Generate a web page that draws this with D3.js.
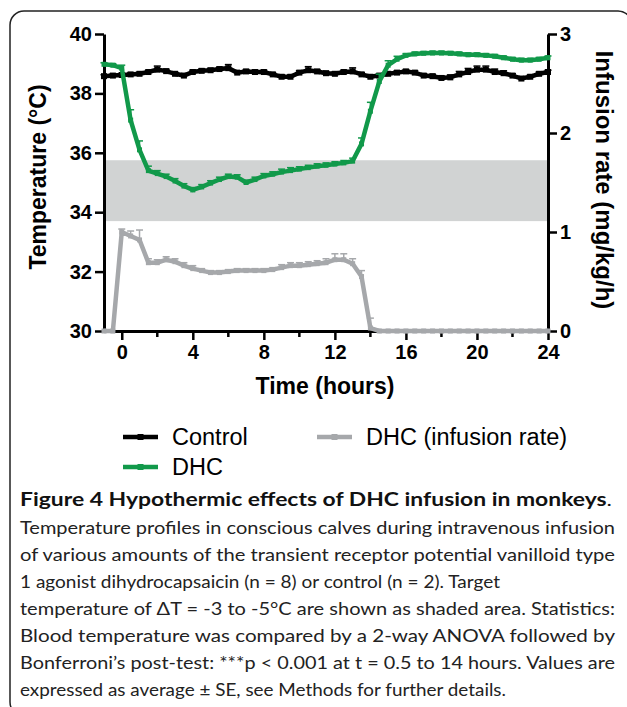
<!DOCTYPE html>
<html>
<head>
<meta charset="utf-8">
<script src="https://cdn.jsdelivr.net/npm/d3@7"></script>
<style>
  body { margin: 0; background: #fff; }
  svg { display: block; }
</style>
</head>
<body>
<svg class="chart" width="627" height="707"></svg>
<script>
// sampling times (hours), one reading every half hour
var hours = d3.range(-1, 24.01, 0.5);

var controlTemp = [38.58,38.6,38.62,38.64,38.66,38.72,38.8,38.75,38.66,38.6,38.72,38.76,38.78,38.82,38.85,38.7,38.74,38.72,38.72,38.64,38.56,38.56,38.7,38.78,38.74,38.68,38.66,38.72,38.74,38.64,38.56,38.6,38.66,38.7,38.74,38.7,38.6,38.58,38.52,38.54,38.64,38.72,38.8,38.8,38.72,38.68,38.6,38.5,38.56,38.66,38.72];
var controlSE = [0.05,0.05,0.05,0.05,0.05,0.06,0.12,0.06,0.05,0.05,0.06,0.06,0.06,0.06,0.12,0.06,0.06,0.06,0.06,0.06,0.06,0.06,0.06,0.12,0.06,0.06,0.06,0.06,0.12,0.06,0.06,0.06,0.06,0.06,0.06,0.06,0.06,0.06,0.06,0.08,0.1,0.12,0.12,0.12,0.1,0.08,0.06,0.06,0.06,0.06,0.06];

var dhcTemp = [38.98,38.95,38.85,37.1,36.1,35.4,35.3,35.2,35.05,34.88,34.75,34.85,34.98,35.1,35.2,35.18,35.0,35.1,35.22,35.28,35.35,35.4,35.45,35.5,35.55,35.58,35.62,35.66,35.72,36.3,37.4,38.4,38.95,39.15,39.28,39.33,39.35,39.36,39.36,39.35,39.33,39.3,39.3,39.28,39.25,39.2,39.15,39.12,39.12,39.15,39.2];
var dhcSE = [0.05,0.05,0.1,0.35,0.3,0.15,0.1,0.08,0.08,0.08,0.08,0.08,0.08,0.08,0.08,0.08,0.08,0.08,0.08,0.08,0.1,0.1,0.08,0.08,0.08,0.08,0.08,0.08,0.1,0.2,0.3,0.25,0.15,0.1,0.06,0.06,0.06,0.06,0.06,0.06,0.06,0.06,0.06,0.06,0.06,0.06,0.06,0.06,0.06,0.06,0.06];

var infusionRate = [0,0,1.0,0.96,0.92,0.69,0.69,0.72,0.7,0.66,0.63,0.61,0.59,0.59,0.6,0.61,0.61,0.61,0.61,0.62,0.64,0.66,0.66,0.67,0.68,0.69,0.72,0.72,0.68,0.55,0.03,0,0,0,0,0,0,0,0,0,0,0,0,0,0,0,0,0,0,0,0];
var infusionSE = [0,0,0.03,0.05,0.1,0.04,0.03,0.03,0.03,0.03,0.03,0.02,0.02,0.02,0.02,0.02,0.02,0.02,0.02,0.02,0.03,0.03,0.03,0.03,0.03,0.04,0.06,0.06,0.05,0.06,0.1,0,0,0,0,0,0,0,0,0,0,0,0,0,0,0,0,0,0,0,0];

var targetBand = [33.7, 35.75];
var tempTicks = [30, 32, 34, 36, 38, 40];
var rateTicks = [0, 1, 2, 3];
var hourTicks = [0, 4, 8, 12, 16, 20, 24];
var hourMinor = [2, 6, 10, 14, 18, 22];

var caption = [
  "Temperature profiles in conscious calves during intravenous infusion",
  "of various amounts of the transient receptor potential vanilloid type",
  "1 agonist dihydrocapsaicin (n = 8) or control (n = 2). Target",
  "temperature of \u0394T = -3 to -5\u00b0C are shown as shaded area. Statistics:",
  "Blood temperature was compared by a 2-way ANOVA followed by",
  "Bonferroni\u2019s post-test: ***p < 0.001 at t = 0.5 to 14 hours. Values are",
  "expressed as average \u00b1 SE, see Methods for further details."
];
var captionWidths = [595, 595, 480, 595, 595, 595, 486];

var GREEN = "#11994a", GREY = "#a6a8ab", BLACK = "#000";

var svg = d3.select(".chart");

// figure frame
svg.append("rect")
  .attr("x", 10).attr("y", 11)
  .attr("width", 622).attr("height", 705)
  .attr("rx", 14)
  .style("fill", "none").style("stroke", "#222").style("stroke-width", 1.5);

var x = d3.scaleLinear().domain([-1, 24]).range([104, 548]);
var yT = d3.scaleLinear().domain([30, 40]).range([331, 34]);
var yR = d3.scaleLinear().domain([0, 3]).range([331, 34]);

// shaded target range
svg.append("rect")
  .attr("x", x(-1)).attr("width", x(24) - x(-1))
  .attr("y", yT(targetBand[1])).attr("height", yT(targetBand[0]) - yT(targetBand[1]))
  .style("fill", "#d1d3d3");

// axes
function styleAxis(g) {
  g.select(".domain").style("stroke-width", 3);
  g.selectAll(".tick line").style("stroke-width", 2.5);
  g.selectAll("text")
    .style("font-family", "'Liberation Sans', Arial, sans-serif")
    .style("font-weight", "bold").style("font-size", "20px").style("fill", "#000");
}

svg.append("g").attr("transform", "translate(104,0)")
  .call(d3.axisLeft(yT).tickValues(tempTicks).tickSize(9).tickSizeOuter(0).tickPadding(3).tickFormat(d3.format("d")))
  .call(styleAxis);

svg.append("g").attr("transform", "translate(548,0)")
  .call(d3.axisRight(yR).tickValues(rateTicks).tickSize(9).tickSizeOuter(0).tickPadding(3).tickFormat(d3.format("d")))
  .call(styleAxis);

var xg = svg.append("g").attr("transform", "translate(0,331)")
  .call(d3.axisBottom(x).tickValues(hourTicks).tickSize(9).tickSizeOuter(0).tickPadding(5).tickFormat(d3.format("d")))
  .call(styleAxis);
xg.selectAll(".minor").data(hourMinor).enter().append("line")
  .attr("x1", function(d){ return x(d); }).attr("x2", function(d){ return x(d); })
  .attr("y1", 0).attr("y2", 6)
  .style("stroke", "#000").style("stroke-width", 2.5);

function drawSeries(vals, se, y, color, lw, ms) {
  var pts = hours.map(function(h, i){ return {h: h, v: vals[i], e: se[i]}; });
  var g = svg.append("g");
  g.append("path")
    .datum(pts)
    .attr("d", d3.line().x(function(d){ return x(d.h); }).y(function(d){ return y(d.v); }))
    .style("fill", "none").style("stroke", color).style("stroke-width", lw);
  var eb = g.selectAll(".eb").data(pts.filter(function(d){ return d.e > 0; })).enter();
  eb.append("line")
    .attr("x1", function(d){ return x(d.h); }).attr("x2", function(d){ return x(d.h); })
    .attr("y1", function(d){ return y(d.v); }).attr("y2", function(d){ return y(d.v + d.e); })
    .style("stroke", color).style("stroke-width", 1.5);
  eb.append("line")
    .attr("x1", function(d){ return x(d.h) - 3.5; }).attr("x2", function(d){ return x(d.h) + 3.5; })
    .attr("y1", function(d){ return y(d.v + d.e); }).attr("y2", function(d){ return y(d.v + d.e); })
    .style("stroke", color).style("stroke-width", 1.5);
  g.selectAll(".m").data(pts).enter().append("rect")
    .attr("x", function(d){ return x(d.h) - ms / 2; })
    .attr("y", function(d){ return y(d.v) - ms / 2; })
    .attr("width", ms).attr("height", ms)
    .style("fill", color);
}

drawSeries(infusionRate, infusionSE, yR, GREY, 4.5, 5);
drawSeries(controlTemp, controlSE, yT, BLACK, 4.5, 6);
drawSeries(dhcTemp, dhcSE, yT, GREEN, 4.5, 5);

// axis titles
var titleFont = "'Liberation Sans', Arial, sans-serif";
svg.append("text").text("Time (hours)")
  .attr("x", 325).attr("y", 394)
  .attr("text-anchor", "middle")
  .style("font-family", titleFont).style("font-weight", "bold").style("font-size", "23px");

svg.append("text").text("Temperature (\u00b0C)")
  .attr("transform", "translate(38,177) rotate(-90)")
  .attr("text-anchor", "middle").attr("dominant-baseline", "central")
  .style("font-family", titleFont).style("font-weight", "bold").style("font-size", "23px");

svg.append("text").text("Infusion rate (mg/kg/h)")
  .attr("transform", "translate(604,180) rotate(90)")
  .attr("text-anchor", "middle").attr("dominant-baseline", "central")
  .style("font-family", titleFont).style("font-weight", "bold").style("font-size", "24px");

// legend
var legend = [
  {label: "Control", color: BLACK, x: 123, y: 437},
  {label: "DHC", color: GREEN, x: 123, y: 467},
  {label: "DHC (infusion rate)", color: GREY, x: 317, y: 437}
];
var lg = svg.selectAll(".lg").data(legend).enter().append("g");
lg.append("line")
  .attr("x1", function(d){ return d.x; }).attr("x2", function(d){ return d.x + 35; })
  .attr("y1", function(d){ return d.y; }).attr("y2", function(d){ return d.y; })
  .style("stroke", function(d){ return d.color; }).style("stroke-width", 4.5);
lg.append("rect")
  .attr("x", function(d){ return d.x + 14.5; }).attr("y", function(d){ return d.y - 3; })
  .attr("width", 6).attr("height", 6)
  .style("fill", function(d){ return d.color; });
lg.append("text").text(function(d){ return d.label; })
  .attr("x", function(d){ return d.x + 49; }).attr("y", function(d){ return d.y + 8; })
  .style("font-family", titleFont).style("font-size", "23.5px");

// caption
var capFont = "Lato, 'Open Sans', sans-serif";
var head = svg.append("text").attr("x", 20).attr("y", 506)
  .attr("textLength", 592).attr("lengthAdjust", "spacingAndGlyphs")
  .style("font-family", capFont).style("font-size", "18px").style("fill", "#111");
head.append("tspan").text("Figure 4 Hypothermic effects of DHC infusion in monkeys").style("font-weight", "bold");
head.append("tspan").text(".");

svg.selectAll(".cap").data(caption).enter().append("text")
  .text(function(d){ return d; })
  .attr("x", 20)
  .attr("y", function(d, i){ return 534 + i * 27; })
  .attr("textLength", function(d, i){ return captionWidths[i]; })
  .attr("lengthAdjust", "spacingAndGlyphs")
  .style("font-family", capFont).style("font-size", "18px").style("fill", "#222");
</script>
</body>
</html>
